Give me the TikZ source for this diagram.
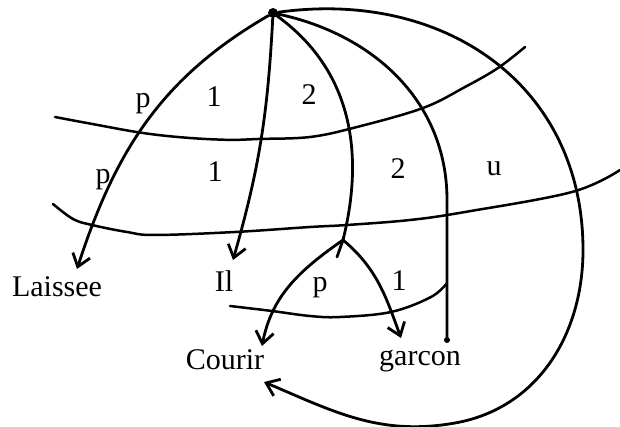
\documentclass[tikz,border=0pt]{standalone}
\usepackage{fontspec}
\setmainfont{Liberation Serif}
\usetikzlibrary{arrows.meta}

\begin{document}
\begin{tikzpicture}[
  x=1pt,y=-1pt,
  font=\fontsize{30}{36}\selectfont,
  word/.style={inner sep=0pt,anchor=base},
  lab/.style={inner sep=0pt,anchor=base},
  dot/.style={circle,fill,inner sep=0pt,minimum size=10pt},
  arc/.style={line width=2.8pt,line cap=round,line join=round},
  arr/.style={arc,-{Straight Barb[length=12pt,width=18pt]}},
  cut/.style={line width=2.5pt,line cap=round}
]
\useasboundingbox (0,0) rectangle (620,427);

% words
\node[word] (laissee) at (57,296) {Laissee};
\node[word] (il) at (224,291) {Il};
\node[word] (courir) at (225,369) {Courir};
\node[word] (garcon) at (420,365) {garcon};

% root and end points
\node[dot] (root) at (273,13) {};
\coordinate (tLaissee) at (77,269);
\coordinate (tIl) at (233,260);
\coordinate (split) at (343,240);
\coordinate (stub) at (337,257);
\coordinate (tCourir) at (262,346);
\coordinate (tGarcon) at (401,338);
\coordinate (g1) at (447,200);
\coordinate (gEnd) at (447,340);
\coordinate (r1) at (583,250);
\coordinate (r2) at (455,423);
\coordinate (tLoop) at (264,382);

% cut lines
\draw[cut] plot[smooth,tension=0.6] coordinates {(55,117) (87,123) (143,133) (190,138) (235,140) (258,139) (310,137) (357,127) (423,108) (465,87) (498,68) (525,47)};
\draw[cut] plot[smooth,tension=0.6] coordinates {(53,204) (73,219) (92,225) (127,232) (155,235) (235,232) (310,227) (347,225) (410,220) (465,212) (572,192) (620,170)};
\draw[cut] plot[smooth,tension=0.6] coordinates {(230,306) (272,311) (310,316) (340,317) (391,312) (431,297) (447,283)};

% dependencies
\draw[arr] (root) to[out=210,in=72] (tLaissee);
\draw[arr] (root) to[out=267,in=74] (tIl);
\draw[arc] (root) to[out=324,in=76] (split) -- (stub);
\draw[arr] (split) to[out=215,in=79] (tCourir);
\draw[arr] (split) to[out=320,in=110] (tGarcon);
\draw[arc] (root) to[out=-12,in=90] (g1) -- (gEnd);
\fill (gEnd) circle (3pt);
\draw[arr] (root) to[out=8,in=90,looseness=1.1] (r1) to[out=-90,in=10] (r2) to[out=190,in=337] (tLoop);

% labels
\node[lab] (p1) at (143,108) {p};
\node[lab] (a1) at (214,107) {1};
\node[lab] (b1) at (309,105) {2};
\node[lab] (p2) at (103,184) {p};
\node[lab] (a2) at (215,182) {1};
\node[lab] (b2) at (398,179) {2};
\node[lab] (u2) at (494,176) {u};
\node[lab] (p3) at (320,291) {p};
\node[lab] (a3) at (399,290) {1};
\end{tikzpicture}
\end{document}
